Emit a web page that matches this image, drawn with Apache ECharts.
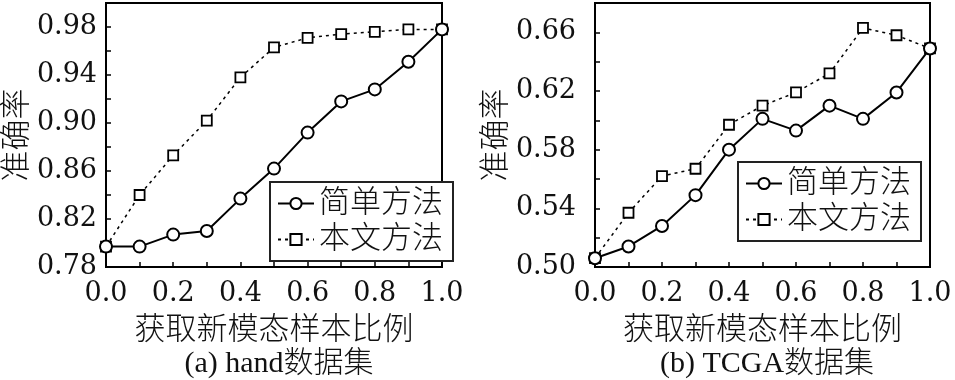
<!DOCTYPE html>
<html>
<head>
<meta charset="utf-8">
<script src="https://cdn.jsdelivr.net/npm/echarts@6/dist/echarts.min.js"></script>
<style>
html,body{margin:0;padding:0;background:#fff;}
#c{width:955px;height:380px;}
</style>
</head>
<body>
<div id="c"></div>
<script>
var xValues = [0.0, 0.1, 0.2, 0.3, 0.4, 0.5, 0.6, 0.7, 0.8, 0.9, 1.0];
var handSimple   = [0.797, 0.797, 0.807, 0.810, 0.837, 0.862, 0.892, 0.918, 0.928, 0.951, 0.978];
var handProposed = [0.797, 0.840, 0.873, 0.902, 0.938, 0.963, 0.971, 0.974, 0.976, 0.978, 0.978];
var tcgaSimple   = [0.506, 0.514, 0.528, 0.549, 0.580, 0.601, 0.593, 0.610, 0.601, 0.619, 0.649];
var tcgaProposed = [0.506, 0.537, 0.562, 0.567, 0.597, 0.610, 0.619, 0.632, 0.663, 0.658, 0.649];
var seriesNames = ['简单方法', '本文方法'];
var xAxisName = '获取新模态样本比例';
var yAxisName = '准确率';
var subTitles = ['(a) hand数据集', '(b) TCGA数据集'];

function pairs(xs, ys) { return xs.map(function (x, i) { return [x, ys[i]]; }); }

var numFont = "'DejaVu Serif', serif";
var cjkFont = "'Liberation Serif', 'Noto Sans CJK SC', serif";
var cjkWeight = 300;

function xAxis(gi) {
  return {
    type: 'value', gridIndex: gi, min: 0, max: 1, interval: 0.1,
    axisLine: { show: true, lineStyle: { color: '#000', width: 2 } },
    axisTick: { show: true, inside: true, length: 5, lineStyle: { color: '#000', width: 1.5 } },
    splitLine: { show: false },
    axisLabel: {
      color: '#111', fontFamily: numFont, fontSize: 27, margin: 13,
      formatter: function (v) { var k = Math.round(v * 10); return k % 2 === 0 ? v.toFixed(1) : ''; }
    },
    name: xAxisName, nameLocation: 'middle', nameGap: 48,
    nameTextStyle: { color: '#111', fontFamily: cjkFont, fontSize: 31, fontWeight: cjkWeight }
  };
}
function yAxis(gi, min, max, offsetMod, gap, lblMargin) {
  return {
    type: 'value', gridIndex: gi, min: min, max: max, interval: 0.02,
    axisLine: { show: true, lineStyle: { color: '#000', width: 2 } },
    axisTick: { show: true, inside: true, length: 5, lineStyle: { color: '#000', width: 1.5 } },
    splitLine: { show: false },
    axisLabel: {
      color: '#111', fontFamily: numFont, fontSize: 27, margin: lblMargin,
      formatter: function (v) { var k = Math.round(v * 100); return k % 4 === offsetMod ? v.toFixed(2) : ''; }
    },
    name: yAxisName, nameLocation: 'middle', nameGap: gap, nameRotate: 90,
    nameTextStyle: { color: '#111', fontFamily: cjkFont, fontSize: 31, fontWeight: cjkWeight }
  };
}
function mkSeries(name, data, gi, dotted, symbol, size, z) {
  return {
    name: name, type: 'line', xAxisIndex: gi, yAxisIndex: gi,
    data: data, symbol: symbol, symbolSize: size, z: z,
    color: '#000',
    lineStyle: { color: '#000', width: dotted ? 1.5 : 2, type: dotted ? [3, 4] : 'solid' },
    itemStyle: { color: '#fff', borderColor: '#000', borderWidth: dotted ? 1.8 : 2 },
    animation: false
  };
}
function legend(left, top) {
  return {
    data: seriesNames, orient: 'vertical', left: left, top: top,
    itemWidth: 36, itemHeight: 14, itemGap: 5, padding: [6, 10, 6, 7],
    borderColor: '#222', borderWidth: 2, backgroundColor: '#fff',
    textStyle: { color: '#111', fontFamily: cjkFont, fontSize: 31, fontWeight: cjkWeight },
    selectedMode: false
  };
}

var chart = echarts.init(document.getElementById('c'), null, { renderer: 'canvas' });
chart.setOption({
  backgroundColor: '#fff',
  animation: false,
  title: [
    { text: subTitles[0], left: 274, top: 344, textAlign: 'center',
      textStyle: { color: '#111', fontFamily: cjkFont, fontSize: 30, fontWeight: cjkWeight } },
    { text: subTitles[1], left: 762, top: 344, textAlign: 'center',
      textStyle: { color: '#111', fontFamily: cjkFont, fontSize: 30, fontWeight: cjkWeight } }
  ],
  grid: [
    { left: 106, right: 513, top: 3, bottom: 113, show: true, borderColor: '#000', borderWidth: 2, backgroundColor: 'transparent' },
    { left: 595, right: 25, top: 3, bottom: 113, show: true, borderColor: '#000', borderWidth: 2, backgroundColor: 'transparent' }
  ],
  xAxis: [xAxis(0), xAxis(1)],
  yAxis: [yAxis(0, 0.78, 1.0, 2, 63, 9), yAxis(1, 0.50, 0.68, 2, 69, 19)],
  legend: [legend(270, 182), legend(738, 162)],
  series: [
    mkSeries(seriesNames[1], pairs(xValues, handProposed), 0, true, 'rect', 10, 2),
    mkSeries(seriesNames[0], pairs(xValues, handSimple), 0, false, 'circle', 12, 3),
    mkSeries(seriesNames[1], pairs(xValues, tcgaProposed), 1, true, 'rect', 10, 2),
    mkSeries(seriesNames[0], pairs(xValues, tcgaSimple), 1, false, 'circle', 12, 3)
  ]
});
</script>
</body>
</html>
